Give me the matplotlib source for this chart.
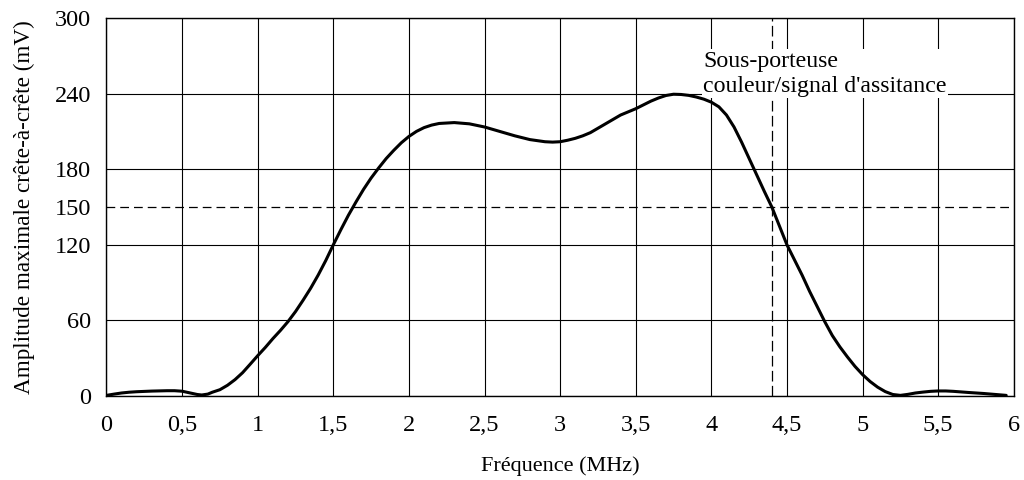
import matplotlib
matplotlib.use("Agg")
import matplotlib.pyplot as plt

# Data
freq_mhz = [0.0, 0.05, 0.1, 0.15, 0.2, 0.3, 0.4, 0.45, 0.5, 0.55, 0.6, 0.63,
            0.67, 0.7, 0.75, 0.8, 0.85, 0.9, 0.95, 1.0, 1.05, 1.1, 1.15, 1.2,
            1.25, 1.3, 1.35, 1.4, 1.45, 1.5, 1.55, 1.6, 1.65, 1.7, 1.75, 1.8,
            1.85, 1.9, 1.95, 2.0, 2.05, 2.1, 2.15, 2.2, 2.3, 2.4, 2.5, 2.6,
            2.7, 2.8, 2.9, 2.95, 3.0, 3.05, 3.1, 3.15, 3.2, 3.25, 3.3, 3.35,
            3.4, 3.45, 3.5, 3.55, 3.6, 3.65, 3.7, 3.75, 3.8, 3.85, 3.9, 3.95,
            4.0, 4.05, 4.1, 4.15, 4.2, 4.25, 4.3, 4.35, 4.4, 4.45, 4.5, 4.55,
            4.6, 4.65, 4.7, 4.75, 4.8, 4.85, 4.9, 4.95, 5.0, 5.05, 5.1, 5.15,
            5.2, 5.25, 5.3, 5.35, 5.4, 5.45, 5.5, 5.55, 5.6, 5.7, 5.8, 5.9, 5.95]
amplitude_mv = [0.5, 1.5, 2.4, 3.0, 3.4, 3.9, 4.2, 4.2, 3.8, 2.5, 1.2, 0.8,
                1.5, 3.0, 5.0, 8.5, 13, 18.5, 25.2, 32, 38.5, 45.5, 52, 59,
                67, 76, 85.5, 96, 107.5, 120, 132, 143.5, 154, 164, 173, 181,
                188.5, 195, 201, 206, 210, 213, 215, 216.3, 217, 216, 213.5, 210,
                206.5, 203.5, 201.8, 201.5, 201.8, 203, 204.5, 206.5, 209, 212.5, 216, 219.5,
                223, 225.5, 228, 231, 234, 236.5, 238.5, 239.5, 239.3, 238.6, 237.3, 235.6,
                233.2, 229.5, 223, 213.5, 201.5, 188.5, 175.5, 162.5, 150, 135, 120, 108,
                96, 83, 71, 59, 48, 39, 31, 23.5, 17, 11.5, 7, 3.5,
                1.2, 0.5, 1.3, 2.4, 3.1, 3.7, 4.0, 4.0, 3.7, 2.8, 2.0, 1.0, 0.5]

x_ticks = [0, 0.5, 1, 1.5, 2, 2.5, 3, 3.5, 4, 4.5, 5, 5.5, 6]
x_tick_labels = ["0", "0,5", "1", "1,5", "2", "2,5", "3", "3,5", "4", "4,5", "5", "5,5", "6"]
y_ticks = [0, 60, 120, 150, 180, 240, 300]
y_grid = [0, 60, 120, 180, 240, 300]
threshold_mv = 150
subcarrier_mhz = 4.40
note_text = "Sous-porteuse\ncouleur/signal d'assitance"
note_pos = (3.945, 237.5)

plt.rcParams['font.family'] = ['Liberation Serif', 'DejaVu Serif']

fig = plt.figure(figsize=(10.24, 4.8), dpi=100)
ax = fig.add_axes([0.104, 0.175, 0.886, 0.7875])

ax.set_xlim(0, 6)
ax.set_ylim(0, 300)

for xv in x_ticks:
    ax.axvline(xv, color='black', lw=0.8, zorder=1)
for yv in y_grid:
    ax.axhline(yv, color='black', lw=0.8, zorder=1)

ax.axhline(threshold_mv, color='black', lw=0.9, dashes=(7, 4), zorder=1)
ax.axvline(subcarrier_mhz, color='black', lw=0.9, dashes=(8.5, 3.5), zorder=1)

ax.text(note_pos[0], note_pos[1], note_text, ha='left', va='bottom',
        fontsize=17.2, linespacing=1.25, zorder=3,
        bbox=dict(facecolor='white', edgecolor='none', pad=1))

ax.plot(freq_mhz, amplitude_mv, color='black', lw=2.2, zorder=4,
        solid_joinstyle='round', solid_capstyle='round')

ax.set_xticks(x_ticks)
ax.set_xticklabels(x_tick_labels)
ax.set_yticks(y_ticks)
ax.set_yticklabels([str(v) for v in y_ticks])
ax.tick_params(axis='both', length=0, labelsize=17.5)
ax.tick_params(axis='y', pad=11)
ax.tick_params(axis='x', pad=14)

for s in ax.spines.values():
    s.set_color('black')
    s.set_linewidth(1.0)
    s.set_zorder(5)

ax.set_xlabel("Fréquence (MHz)", fontsize=16, labelpad=14)
ax.set_ylabel("Amplitude maximale crête-à-crête (mV)", fontsize=16.7, labelpad=14)

fig.savefig("out.png", dpi=100)
